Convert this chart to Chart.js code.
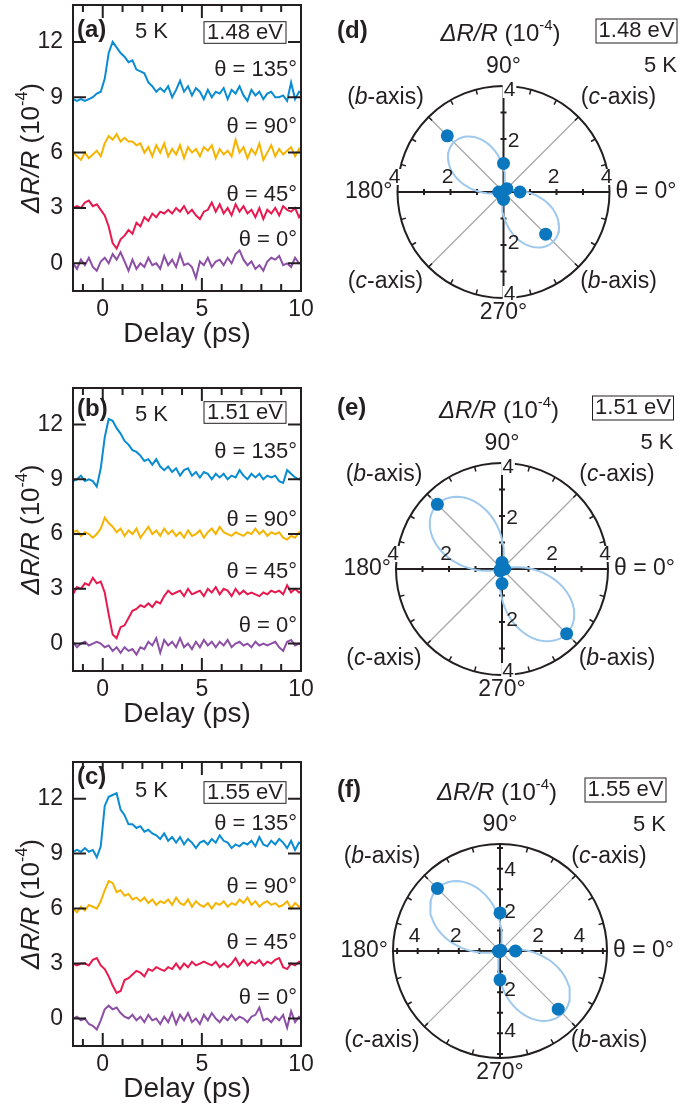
<!DOCTYPE html>
<html>
<head>
<meta charset="utf-8">
<script src="https://cdn.jsdelivr.net/npm/chart.js@4.4.0/dist/chart.umd.min.js"></script>
<style>
  html, body { margin: 0; padding: 0; background: #fff; }
  body { position: relative; width: 693px; height: 1106px; overflow: hidden; }
  canvas { position: absolute; }
</style>
</head>
<body>
<canvas id="panelA"></canvas>
<canvas id="panelB"></canvas>
<canvas id="panelC"></canvas>
<canvas id="panelD"></canvas>
<canvas id="panelE"></canvas>
<canvas id="panelF"></canvas>
<script>
// ---- data ----
const delay = [-1.5,-1.3,-1.1,-0.9,-0.7,-0.5,-0.3,-0.1,0.1,0.3,0.5,0.7,0.9,1.1,1.3,1.5,1.7,1.9,2.1,2.3,
  2.5,2.7,2.9,3.1,3.3,3.5,3.7,3.9,4.1,4.3,4.5,4.7,4.9,5.1,5.3,5.5,5.7,5.9,6.1,6.3,
  6.5,6.7,6.9,7.1,7.3,7.5,7.7,7.9,8.1,8.3,8.5,8.7,8.9,9.1,9.3,9.5,9.7,9.9,10.1];

const thetaLabels = ['θ = 135°', 'θ = 90°', 'θ = 45°', 'θ = 0°'];
const energies = ['1.48 eV', '1.51 eV', '1.55 eV'];
const xTickLabels = [0, 5, 10];
const xTickMarks = [-1, 0, 1, 2, 3, 4, 5, 6, 7, 8, 9, 10];
const yTicks = [0, 3, 6, 9, 12];

// (a) 1.48 eV
const a135 = [8.9,8.8,8.9,8.8,8.9,9.0,9.2,9.3,10.0,11.4,
  12.0,11.7,11.4,11.2,10.9,11.0,10.5,10.4,10.3,9.8,
  9.6,9.3,9.5,9.3,9.6,9.0,9.4,9.9,9.3,9.6,
  9.1,9.5,9.3,8.9,9.4,9.0,9.3,9.2,9.5,8.9,
  9.4,9.2,9.6,9.1,8.8,9.4,9.1,9.3,8.9,9.2,
  9.3,9.0,9.0,9.1,8.8,9.8,8.9,9.3,9.2];
const a90 = [6.0,5.8,5.6,6.0,5.7,5.9,6.1,5.8,6.5,6.9,
  6.7,7.0,6.6,6.8,6.6,6.6,6.4,6.5,6.0,6.3,
  5.8,6.4,6.0,6.5,5.8,6.2,5.9,6.4,5.7,6.3,
  6.0,6.2,5.8,6.3,6.1,6.4,5.7,6.2,5.9,6.1,
  5.8,6.7,6.0,6.3,5.7,6.2,5.9,6.5,5.6,6.0,
  6.4,5.8,6.2,5.9,6.1,6.3,5.8,6.2,5.6];
const a45 = [3.0,3.1,3.0,3.3,3.4,3.1,3.2,2.9,2.6,2.0,
  1.1,0.8,1.3,1.5,1.8,1.6,2.2,2.0,2.5,2.3,
  2.7,2.5,2.8,2.7,2.9,2.7,3.0,2.8,3.1,2.7,
  2.9,2.6,2.4,2.8,2.9,3.3,2.8,3.2,2.7,3.0,
  2.6,3.2,2.8,3.1,2.7,2.9,2.5,3.0,2.4,2.9,
  2.7,3.0,2.6,3.1,2.9,2.8,3.0,2.5,2.9];
const a0 = [0.0,-0.3,0.2,-0.1,0.3,-0.2,-0.4,0.1,0.3,0.0,
  0.5,0.2,0.6,0.1,-0.4,0.2,-0.3,0.0,-0.2,0.3,
  -0.1,0.0,-0.3,0.4,-0.1,0.2,-0.2,0.5,-0.1,0.0,
  -0.2,-0.8,0.1,-0.1,0.3,-0.2,0.1,0.2,-0.1,0.3,
  0.0,0.5,0.7,0.2,-0.1,0.1,-0.3,-0.1,-0.4,0.1,
  0.3,0.2,0.4,-0.1,0.0,-0.2,0.3,0.0,0.1];

// (b) 1.51 eV
const b135 = [8.9,9.0,9.2,8.9,9.0,8.9,8.6,9.6,11.3,12.3,
  12.2,11.8,11.5,11.1,10.9,10.6,10.5,10.3,10.0,10.1,
  9.8,10.1,9.7,9.5,9.7,9.4,9.6,9.2,9.5,9.6,
  9.2,9.4,9.1,9.4,9.3,9.0,9.3,9.1,9.3,9.0,
  9.2,9.1,9.5,9.2,9.0,9.3,9.1,9.3,9.0,9.2,
  9.1,9.2,8.9,8.8,9.5,9.3,9.1,9.0,9.2];
const b90 = [6.1,6.2,5.9,6.1,6.0,5.8,6.0,6.3,6.9,6.6,
  6.4,6.1,6.3,5.9,6.2,6.0,6.3,5.8,6.1,6.4,
  6.0,6.2,5.9,6.3,6.0,6.2,5.9,6.1,5.8,6.2,
  5.9,6.0,6.2,5.8,6.1,6.3,6.0,6.4,6.1,6.0,
  5.9,6.1,6.0,5.9,6.1,6.0,6.3,6.0,6.2,5.9,
  6.1,6.0,6.1,5.8,5.7,5.9,5.8,6.1,6.2];
const b45 = [2.7,3.1,3.0,3.3,3.2,3.6,3.3,3.4,2.8,1.6,
  0.5,0.3,0.9,1.0,1.4,1.8,1.9,2.1,2.0,2.2,
  2.0,2.3,2.2,2.6,2.9,2.7,2.8,2.9,2.6,3.0,
  2.7,2.8,2.9,2.6,3.0,2.8,3.1,2.7,3.0,2.9,
  2.6,3.0,2.7,2.9,2.7,2.8,2.7,2.6,2.8,2.7,
  2.9,2.8,2.9,2.7,3.2,2.8,3.0,2.8,2.9];
const b0 = [0.1,-0.2,0.0,0.1,-0.1,0.0,0.1,0.0,-0.2,-0.1,
  -0.4,-0.2,-0.5,-0.2,-0.4,-0.3,-0.6,-0.2,-0.3,0.1,
  -0.1,0.3,-0.5,0.2,-0.1,0.1,-0.2,0.3,-0.2,0.0,
  -0.3,0.1,-0.2,0.2,-0.1,0.1,-0.2,0.1,-0.1,0.2,
  -0.2,0.0,0.1,-0.1,0.0,-0.2,0.1,-0.1,0.0,-0.1,
  0.0,0.1,-0.2,-0.4,0.1,0.2,-0.1,0.0,-0.1];

// (c) 1.55 eV
const c135 = [9.1,9.2,9.1,9.3,9.1,9.2,8.8,9.4,11.6,12.1,
  12.2,12.3,11.4,11.1,10.6,10.6,10.4,10.5,10.2,10.3,
  10.1,10.0,9.8,10.1,9.7,9.9,9.6,9.9,9.5,9.8,
  9.6,9.3,9.6,9.7,9.5,9.8,9.6,10.0,9.7,9.6,
  9.3,9.5,9.4,9.6,9.5,9.7,9.4,9.9,9.5,9.4,
  9.7,9.5,9.8,9.6,9.3,9.7,9.2,9.6,9.5];
const c90 = [6.0,5.8,6.1,5.9,6.2,6.1,6.0,6.4,7.0,7.5,
  7.4,6.9,7.0,6.7,6.8,6.5,6.6,6.4,6.6,6.3,
  6.5,6.2,6.4,6.3,6.5,6.2,6.6,6.3,6.2,6.5,
  6.1,6.4,6.2,6.1,6.3,6.0,6.3,6.2,6.4,6.1,
  6.3,6.2,6.5,6.3,6.6,6.2,6.4,6.1,6.3,6.4,
  6.2,6.3,6.1,6.2,6.4,6.0,6.3,6.1,6.2];
const c45 = [3.0,2.9,3.0,3.0,2.9,3.2,3.3,2.9,2.7,2.3,
  1.8,1.4,1.5,2.1,2.2,2.4,2.6,2.5,2.3,2.7,
  2.6,2.8,2.7,2.6,2.8,2.7,3.0,2.7,3.0,2.8,
  3.1,2.9,3.0,3.1,3.0,2.9,3.1,2.8,3.0,2.8,
  3.0,3.3,2.9,3.2,2.9,3.1,3.0,3.2,2.9,3.1,
  3.0,3.2,3.3,2.8,2.7,3.0,2.9,3.1,3.0];
const c0 = [0.0,0.1,-0.1,0.0,-0.3,-0.4,-0.6,-0.1,0.5,0.7,
  0.5,0.6,0.3,0.1,0.0,0.2,-0.1,0.1,-0.2,0.2,
  -0.1,0.0,-0.3,0.1,-0.2,0.3,-0.3,0.2,-0.1,0.3,
  -0.2,0.0,-0.3,0.2,-0.1,0.3,0.0,-0.2,0.1,-0.1,
  0.2,-0.1,0.1,0.0,-0.2,0.1,0.2,0.6,-0.1,0.0,
  -0.2,0.1,-0.1,0.2,-0.5,0.4,-0.2,0.1,0.0];

// polar amplitudes (10^-4) at each polarisation angle
const polarAngles = [0, 45, 90, 135, 180, 225, 270, 315];
const dAmp = [0.62, 0.18, 1.08, 3.0, 0.18, 0.12, 0.28, 2.25];
const eAmp = [0.1, 0.06, 0.25, 3.45, 0.06, 0.1, 0.55, 3.45];
const fAmp = [0.75, 0.05, 1.85, 4.3, 0.08, 0.05, 1.4, 4.0];
// fit: r = A cos^2(phi - 135) - B sin^2(phi - 135)
const fitA = [2.65, 3.45, 4.3];
const fitB = [0.9, 1.2, 1.5];
const radialLabels = [2, 4];

// ---- styling ----
const INK = '#231f20';
const FONT = '"Liberation Sans", Arial, Helvetica, sans-serif';
const traceColors = ['#0a8cd2', '#f6b400', '#e8194f', '#8c4fa6'];
const pointColor = '#0a77bf';
const lobeColor = '#9fc9ec';
Chart.defaults.font.family = FONT;
Chart.defaults.color = INK;

function fontFor(p, size) {
  return (p.italic ? 'italic ' : '') + (p.bold ? 'bold ' : '') +
    (p.sup ? Math.round(size * 0.62) : size) + 'px ' + FONT;
}
function drawRich(ctx, parts, x, y, size, align) {
  const widths = parts.map(p => { ctx.font = fontFor(p, size); return ctx.measureText(p.t).width; });
  const total = widths.reduce((s, w) => s + w, 0);
  let cur = align === 'center' ? x - total / 2 : align === 'right' ? x - total : x;
  ctx.textAlign = 'left';
  ctx.textBaseline = 'middle';
  parts.forEach((p, i) => {
    ctx.font = fontFor(p, size);
    ctx.fillText(p.t, cur, p.sup ? y - size * 0.36 : y);
    cur += widths[i];
  });
  return total;
}
const yTitle = [{t: 'ΔR/R', italic: true}, {t: ' (10'}, {t: '-4', sup: true}, {t: ')'}];

// ---- left column: time traces ----
const X_AXIS_H = 60;
function makeTrace(cfg) {
  const cv = document.getElementById(cfg.id);
  const top0 = cfg.frameTop - 5;
  cv.width = 330;
  cv.height = cfg.frameBottom - cfg.frameTop + 5 + X_AXIS_H;
  cv.style.left = '0px';
  cv.style.top = top0 + 'px';

  const framePlugin = {
    id: 'traceFrame',
    afterDatasetsDraw(chart) {
      const {ctx, chartArea: a, scales: {x, y}} = chart;
      ctx.save();
      ctx.strokeStyle = INK;
      ctx.lineWidth = 2;
      ctx.strokeRect(a.left, a.top, a.right - a.left, a.bottom - a.top);
      ctx.beginPath();
      xTickMarks.forEach(v => {
        const px = x.getPixelForValue(v);
        const len = xTickLabels.includes(v) ? 13 : 7;
        ctx.moveTo(px, a.bottom); ctx.lineTo(px, a.bottom - len);
        ctx.moveTo(px, a.top); ctx.lineTo(px, a.top + len);
      });
      yTicks.forEach(v => {
        const py = y.getPixelForValue(v);
        ctx.moveTo(a.left, py); ctx.lineTo(a.left + 13, py);
        ctx.moveTo(a.right, py); ctx.lineTo(a.right - 13, py);
      });
      ctx.stroke();

      ctx.fillStyle = INK;
      // panel letter, temperature, energy box
      drawRich(ctx, [{t: cfg.letter, bold: true}], 77, cfg.letterY - top0, 24, 'left');
      drawRich(ctx, [{t: '5 K'}], 135, cfg.kY - top0, 22, 'left');
      const bt = cfg.boxTop - top0;
      ctx.fillStyle = '#fff';
      ctx.fillRect(204, bt, 82, 21.6);
      ctx.lineWidth = 1;
      ctx.strokeRect(204, bt, 82, 21.6);
      ctx.fillStyle = INK;
      drawRich(ctx, [{t: cfg.energy}], 245, bt + 11, 22, 'center');
      // theta labels
      thetaLabels.forEach((txt, i) => {
        drawRich(ctx, [{t: txt}], 297, y.getPixelForValue(cfg.thetaY[i]), 22, 'right');
      });
      // y-axis title
      ctx.translate(32, (a.top + a.bottom) / 2);
      ctx.rotate(-Math.PI / 2);
      drawRich(ctx, yTitle, 0, 0, 26, 'center');
      ctx.restore();
    }
  };

  const datasets = cfg.series.map((vals, i) => ({
    data: delay.map((t, j) => ({x: t, y: vals[j]})),
    showLine: true,
    borderColor: traceColors[i],
    borderWidth: 2,
    pointRadius: 0,
    fill: false,
    clip: 0
  }));

  new Chart(cv, {
    type: 'scatter',
    data: {datasets},
    options: {
      responsive: false,
      animation: false,
      events: [],
      layout: {padding: {left: 0, right: 29, top: 5, bottom: 0}},
      plugins: {legend: {display: false}, tooltip: {enabled: false}},
      scales: {
        x: {
          type: 'linear', min: -1.5, max: 10,
          grid: {display: false, drawTicks: false},
          border: {display: false},
          afterBuildTicks: s => { s.ticks = xTickLabels.map(v => ({value: v})); },
          afterFit: s => { s.height = X_AXIS_H; s.paddingLeft = 0; s.paddingRight = 0; },
          ticks: {font: {size: 23}, color: INK, padding: 5, maxRotation: 0, autoSkip: false},
          title: {display: true, text: 'Delay (ps)', font: {size: 28}, color: INK, padding: {top: 0, bottom: 0}}
        },
        y: {
          type: 'linear', min: -1.5, max: 14,
          grid: {display: false, drawTicks: false},
          border: {display: false},
          afterBuildTicks: s => { s.ticks = yTicks.map(v => ({value: v})); },
          afterFit: s => { s.width = 73; s.paddingTop = 0; s.paddingBottom = 0; },
          ticks: {font: {size: 23}, color: INK, padding: 10, autoSkip: false}
        }
      }
    },
    plugins: [framePlugin]
  });
}

makeTrace({id: 'panelA', frameTop: 5, frameBottom: 291, letter: '(a)', energy: energies[0],
  letterY: 30, kY: 32, boxTop: 21.7, thetaY: [10.5, 7.4, 3.7, 1.25], series: [a135, a90, a45, a0]});
makeTrace({id: 'panelB', frameTop: 388, frameBottom: 671, letter: '(b)', energy: energies[1],
  letterY: 409, kY: 415, boxTop: 401.7, thetaY: [10.5, 6.75, 3.95, 0.95], series: [b135, b90, b45, b0]});
makeTrace({id: 'panelC', frameTop: 762, frameBottom: 1046, letter: '(c)', energy: energies[2],
  letterY: 777, kY: 791, boxTop: 781.7, thetaY: [10.6, 7.2, 4.1, 1.15], series: [c135, c90, c45, c0]});

// ---- right column: polar plots ----
function makePolar(cfg) {
  const cv = document.getElementById(cfg.id);
  cv.width = 363;
  cv.height = cfg.height;
  cv.style.left = '330px';
  cv.style.top = cfg.top + 'px';
  const rMax = cfg.rMax;

  const toXY = (deg, r) => ({x: r * Math.cos(deg * Math.PI / 180), y: r * Math.sin(deg * Math.PI / 180)});
  const pts = polarAngles.map((d, i) => toXY(d, cfg.amp[i]));
  const lobe = [];
  for (let d = 0; d <= 360; d += 2) {
    const ph = (d - 135) * Math.PI / 180;
    const r = Math.max(0, cfg.A * Math.cos(ph) ** 2 - cfg.B * Math.sin(ph) ** 2);
    lobe.push(toXY(d, r));
  }

  const polarPlugin = {
    id: 'polarFrame',
    beforeDatasetsDraw(chart) {
      const {ctx, scales: {x, y}} = chart;
      const cx = x.getPixelForValue(0), cy = y.getPixelForValue(0);
      const R = x.getPixelForValue(rMax) - cx;
      const u = R / rMax;
      ctx.save();
      ctx.strokeStyle = '#a7a9ac';
      ctx.lineWidth = 1.3;
      ctx.beginPath();
      [45, 135].forEach(d => {
        const c = Math.cos(d * Math.PI / 180), s = Math.sin(d * Math.PI / 180);
        ctx.moveTo(cx + R * c, cy - R * s);
        ctx.lineTo(cx - R * c, cy + R * s);
      });
      ctx.stroke();
      ctx.strokeStyle = INK;
      ctx.lineWidth = 2;
      ctx.beginPath();
      ctx.moveTo(cx - R, cy); ctx.lineTo(cx + R, cy);
      ctx.moveTo(cx, cy - R); ctx.lineTo(cx, cy + R);
      for (let k = 1; k < rMax; k++) {
        [-1, 1].forEach(sg => {
          ctx.moveTo(cx + sg * k * u, cy - 3); ctx.lineTo(cx + sg * k * u, cy + 3);
          ctx.moveTo(cx - 3, cy + sg * k * u); ctx.lineTo(cx + 3, cy + sg * k * u);
        });
      }
      ctx.stroke();
      ctx.beginPath();
      ctx.arc(cx, cy, R, 0, Math.PI * 2);
      ctx.stroke();
      ctx.lineWidth = 1.5;
      ctx.beginPath();
      for (let d = 15; d < 360; d += 15) {
        if (d % 90 === 0) continue;
        const c = Math.cos(d * Math.PI / 180), s = Math.sin(d * Math.PI / 180);
        ctx.moveTo(cx + R * c, cy - R * s);
        ctx.lineTo(cx + (R - 5) * c, cy - (R - 5) * s);
      }
      ctx.stroke();
      ctx.restore();
    },
    afterDatasetsDraw(chart) {
      const {ctx, scales: {x, y}} = chart;
      const cx = x.getPixelForValue(0), cy = y.getPixelForValue(0);
      const R = x.getPixelForValue(rMax) - cx;
      const u = R / rMax;
      ctx.save();
      ctx.fillStyle = INK;
      const tickLabel = (txt, px, py, edge) => {
        ctx.font = '21px ' + FONT;
        if (edge) {
          const w = ctx.measureText(txt).width;
          ctx.fillStyle = '#fff';
          ctx.fillRect(px - w / 2 - 1, py - 8, w + 2, 16);
          ctx.fillStyle = INK;
        }
        ctx.textAlign = 'center';
        ctx.textBaseline = 'middle';
        ctx.fillText(txt, px, py);
      };
      radialLabels.forEach(k => {
        const edge = k >= rMax;
        tickLabel(String(k), cx - k * u - 3, cy - 15, edge);
        tickLabel(String(k), cx + k * u - 3, cy - 15, edge);
        tickLabel(String(k), cx + (edge ? 6 : 10), cy - k * u + (edge ? 4 : 2), edge);
        tickLabel(String(k), cx + (edge ? 6 : 10), cy + k * u - (edge ? 4 : 2), edge);
      });
      const S = 23;
      drawRich(ctx, [{t: '90°'}], cx, cy - R - 19, S, 'center');
      drawRich(ctx, [{t: '270°'}], cx, cy + R + 15, S, 'center');
      drawRich(ctx, [{t: '180°'}], cx - R - 5, cy, S, 'right');
      drawRich(ctx, [{t: 'θ = 0°'}], cx + R + 6, cy, S, 'left');
      const bAxis = [{t: '('}, {t: 'b', italic: true}, {t: '-axis)'}];
      const cAxis = [{t: '('}, {t: 'c', italic: true}, {t: '-axis)'}];
      drawRich(ctx, bAxis, cx - 118, cy - 94, S, 'center');
      drawRich(ctx, cAxis, cx + cfg.rightDx, cy - 94, S, 'center');
      drawRich(ctx, cAxis, cx - 118, cy + 90, S, 'center');
      drawRich(ctx, bAxis, cx + cfg.rightDx, cy + 90, S, 'center');
      // header
      drawRich(ctx, yTitle, cx - 3, cy - 158, 24, 'center');
      drawRich(ctx, [{t: cfg.letter, bold: true}], 7, cy - 161, 24, 'left');
      const bw = 81, bh = 24, bx = cfg.boxRight - 330 - bw, by = cy - 161 - bh / 2;
      ctx.lineWidth = 1;
      ctx.strokeStyle = INK;
      ctx.strokeRect(bx, by, bw, bh);
      drawRich(ctx, [{t: cfg.energy}], bx + bw / 2, by + bh / 2, 22, 'center');
      drawRich(ctx, [{t: '5 K'}], cfg.boxRight - 330, cy - 126, 22, 'right');
      ctx.restore();
    }
  };

  const padL = cfg.cx - cfg.R - 330;
  const padR = 693 - (cfg.cx + cfg.R);
  const padT = cfg.cy - cfg.R - cfg.top;
  const padB = cfg.top + cfg.height - (cfg.cy + cfg.R);

  new Chart(cv, {
    type: 'scatter',
    data: {
      datasets: [
        {data: pts, pointRadius: 6.5, pointBackgroundColor: pointColor, pointBorderWidth: 0, showLine: false},
        {data: lobe, showLine: true, borderColor: lobeColor, borderWidth: 2, pointRadius: 0, fill: false}
      ]
    },
    options: {
      responsive: false,
      animation: false,
      events: [],
      layout: {padding: {left: padL, right: padR, top: padT, bottom: padB}},
      plugins: {legend: {display: false}, tooltip: {enabled: false}},
      scales: {
        x: {type: 'linear', min: -rMax, max: rMax, display: false},
        y: {type: 'linear', min: -rMax, max: rMax, display: false}
      }
    },
    plugins: [polarPlugin]
  });
}

makePolar({id: 'panelD', top: 0, height: 330, cx: 503.5, cy: 192, R: 106, rMax: 4,
  amp: dAmp, A: fitA[0], B: fitB[0], letter: '(d)', energy: energies[0], boxRight: 677, rightDx: 115});
makePolar({id: 'panelE', top: 380, height: 330, cx: 502, cy: 569, R: 106, rMax: 4,
  amp: eAmp, A: fitA[1], B: fitB[1], letter: '(e)', energy: energies[1], boxRight: 673.5, rightDx: 115});
makePolar({id: 'panelF', top: 760, height: 346, cx: 500, cy: 951, R: 107, rMax: 5.2,
  amp: fAmp, A: fitA[2], B: fitB[2], letter: '(f)', energy: energies[2], boxRight: 666, rightDx: 109});
</script>
</body>
</html>
